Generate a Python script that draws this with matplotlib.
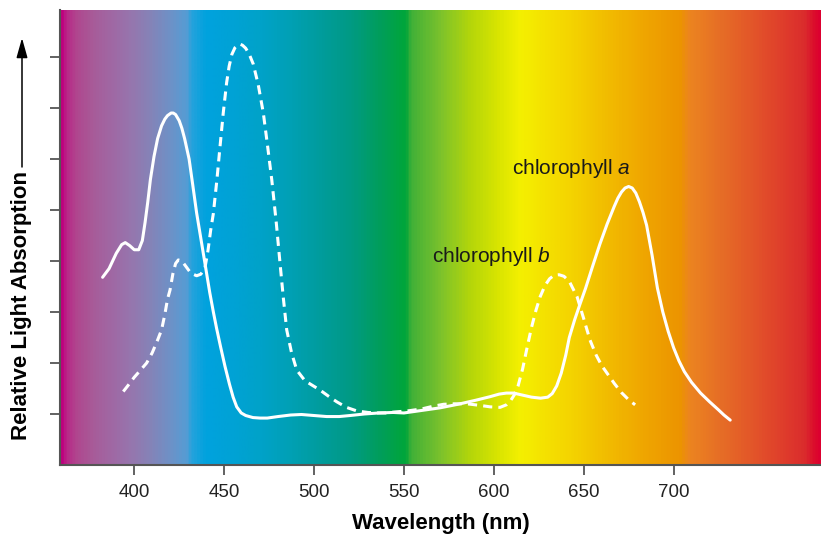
import numpy as np
import matplotlib
matplotlib.use("Agg")
import matplotlib.pyplot as plt
from matplotlib.colors import LinearSegmentedColormap

plt.rcParams["font.family"] = ["Liberation Sans", "DejaVu Sans"]
plt.rcParams["mathtext.fontset"] = "custom"
plt.rcParams["mathtext.rm"] = "Liberation Sans"
plt.rcParams["mathtext.it"] = "Liberation Sans:italic"

# chlorophyll a absorption (wavelength nm, relative absorption)
chl_a_wl = [382.4, 386, 390, 393, 395, 397.5, 400, 402.5, 404.5, 406, 407.5, 409, 411, 413,
            415.2, 417, 418.5, 420.5, 421.7, 423, 425, 426.5, 428, 430.5, 432.5, 434.7, 437,
            439.3, 442, 444, 445.8, 448, 450.5, 453, 455, 457, 459.5, 462, 466, 470, 474, 480,
            487, 493, 500, 507, 514, 520, 528, 536, 544, 550, 556, 562, 570, 580, 590, 598,
            603, 607, 611, 616, 621, 626, 630, 632.5, 635, 637.5, 640, 642, 645, 648, 651, 655,
            659, 663, 667, 669, 671, 673, 675, 677, 679, 681, 683, 685, 688, 691, 694, 697,
            700, 703, 706, 710, 715, 720, 725, 728, 731.5]
chl_a_abs = [3.68, 3.85, 4.15, 4.32, 4.36, 4.30, 4.22, 4.22, 4.40, 4.75, 5.15, 5.6, 6.05, 6.4,
             6.65, 6.78, 6.85, 6.9, 6.9, 6.87, 6.75, 6.6, 6.4, 6.0, 5.5, 4.94, 4.45,
             3.96, 3.38, 3.0, 2.68, 2.32, 1.93, 1.58, 1.33, 1.14, 1.02, 0.97, 0.93, 0.92, 0.92, 0.95,
             0.98, 0.99, 0.97, 0.95, 0.95, 0.97, 1.0, 1.02, 1.03, 1.02, 1.05, 1.08, 1.12, 1.19, 1.27,
             1.34, 1.39, 1.41, 1.41, 1.37, 1.33, 1.31, 1.33, 1.4, 1.55, 1.8, 2.15, 2.5, 2.85, 3.16,
             3.46, 3.9, 4.33, 4.72, 5.07, 5.23, 5.35, 5.43, 5.46, 5.43, 5.33, 5.16, 4.95, 4.7, 4.12,
             3.47, 3.0, 2.62, 2.3, 2.04, 1.83, 1.62, 1.41, 1.24, 1.08, 0.98, 0.88]

# chlorophyll b absorption
chl_b_wl = [393.9, 397, 400, 403, 406.9, 410, 413, 415.2, 417, 418.5, 419.9, 421.5, 423, 424.5,
            426.5, 429, 431.5, 434.7, 437, 439.3, 441, 442.5, 444, 446, 447.7, 449.5, 451.4,
            452.8, 454.3, 456, 457.5, 458.8, 460.2, 462, 464, 466.2, 469, 471.8, 474, 476.5,
            479, 481.1, 483, 484.8, 487.5, 490.4, 495, 503.3, 508, 512.6, 518, 523.8, 530, 535,
            540, 545, 552, 560, 566, 572, 578, 585, 592, 598, 603.5, 607, 609.5, 611.5, 613.5,
            616, 618.5, 621, 623.5, 625.8, 628.5, 631, 633.5, 636.3, 639, 642, 646.3, 650,
            653.5, 657, 660, 663, 667, 671, 675, 678.6]
chl_b_abs = [1.44, 1.58, 1.72, 1.84, 2.0, 2.2, 2.45, 2.65, 2.95, 3.25, 3.43, 3.75, 3.95, 4.02,
             4.0, 3.88, 3.76, 3.71, 3.74, 3.86, 4.2, 4.6, 4.93, 5.6, 6.24, 6.9, 7.5,
             7.82, 8.05, 8.18, 8.23, 8.25, 8.23, 8.17, 8.05, 7.86, 7.45, 6.9, 6.3, 5.59,
             4.75, 3.95, 3.25, 2.65, 2.2, 1.86, 1.65, 1.47, 1.35, 1.24, 1.13, 1.06, 1.03, 1.02,
             1.02, 1.04, 1.06, 1.1, 1.15, 1.19, 1.2, 1.2, 1.17, 1.14, 1.13, 1.18, 1.27, 1.38, 1.55,
             1.88, 2.3, 2.7, 3.04, 3.3, 3.52, 3.65, 3.72, 3.73, 3.7, 3.6, 3.3, 2.87,
             2.45, 2.15, 1.95, 1.8, 1.6, 1.42, 1.28, 1.18]

xticks = [400, 450, 500, 550, 600, 650, 700]
yticks = [1, 2, 3, 4, 5, 6, 7, 8]
xlim = (358.7, 782.0)
ylim = (0, 8.92)

# background spectrum colour stops (wavelength, colour)
spec_wl = [358.7, 361.4, 367.0, 375.3, 386.5, 397.6, 408.7, 419.9, 428.2, 431.0, 439.3,
           453.3, 470.0, 486.7, 503.4, 520.1, 536.8, 547.9, 550.7, 553.5, 570.2, 586.9,
           603.6, 614.7, 625.9, 642.6, 659.3, 681.6, 703.8, 709.4, 726.1, 748.3, 765.0,
           773.4, 779.0, 782.0]
spec_col = ["#be007e", "#b82888", "#b0468e", "#a85a98", "#a068a4", "#9676ae", "#8484b8",
            "#6c92c8", "#569cd4", "#26a2dc", "#00a2de", "#00a2d6", "#00a2c8", "#00a0b4",
            "#009c9c", "#009a84", "#009e5a", "#00a440", "#00a63a", "#40b038", "#7cc22c",
            "#b4d60a", "#dce600", "#f4f000", "#f4e400", "#f4d400", "#f2c000", "#f0a800",
            "#ec9400", "#ec8420", "#e66e26", "#e2502a", "#de382c", "#da2c2c", "#dc0c2c",
            "#dc0030"]

fig = plt.figure(figsize=(8.21, 5.35), dpi=100)
ax = fig.add_axes([60 / 821, 70 / 535, 761 / 821, 455 / 535])

pos = [(w - xlim[0]) / (xlim[1] - xlim[0]) for w in spec_wl]
cmap = LinearSegmentedColormap.from_list("spectrum", list(zip(pos, spec_col)))
grad = np.linspace(0, 1, 800).reshape(1, -1)
ax.imshow(grad, cmap=cmap, aspect="auto", extent=[xlim[0], xlim[1], ylim[0], ylim[1]],
          interpolation="bilinear", zorder=0)

ax.plot(chl_a_wl, chl_a_abs, color="white", lw=2.2, solid_joinstyle="round",
        solid_capstyle="round", zorder=3)
ax.plot(chl_b_wl, chl_b_abs, color="white", lw=2.2, dashes=(3, 2),
        dash_joinstyle="round", zorder=3)

ax.text(610.3, 5.82, "chlorophyll $a$", fontsize=15, color="#1a1a1a", va="center", ha="left")
ax.text(565.7, 4.08, "chlorophyll $b$", fontsize=15, color="#1a1a1a", va="center", ha="left")

ax.set_xlim(*xlim)
ax.set_ylim(*ylim)
ax.set_xticks(xticks)
ax.set_yticks(yticks)
ax.set_yticklabels([])
ax.tick_params(axis="both", length=7, width=1.3, color="#555555", direction="out")
ax.tick_params(axis="x", labelsize=13.5, pad=7, labelcolor="#222222")
for s in ["top", "right"]:
    ax.spines[s].set_visible(False)
for s in ["left", "bottom"]:
    ax.spines[s].set_color("#555555")
    ax.spines[s].set_linewidth(1.5)

ax.set_xlabel("Wavelength (nm)", fontsize=16, fontweight="bold", labelpad=8)

# y label with an arrow running up from it
fig.text(22 / 821, 1 - 305 / 535, "Relative Light Absorption", rotation=90, fontsize=16,
         fontweight="bold", ha="center", va="center")
ax.annotate("", xy=(22 / 821, 1 - 38 / 535), xytext=(22 / 821, 1 - 167 / 535),
            xycoords="figure fraction", textcoords="figure fraction",
            arrowprops=dict(arrowstyle="-|>,head_length=1.0,head_width=0.28",
                            mutation_scale=12, color="black", lw=1.1, shrinkA=0, shrinkB=0))

fig.savefig("out.png", dpi=100)
